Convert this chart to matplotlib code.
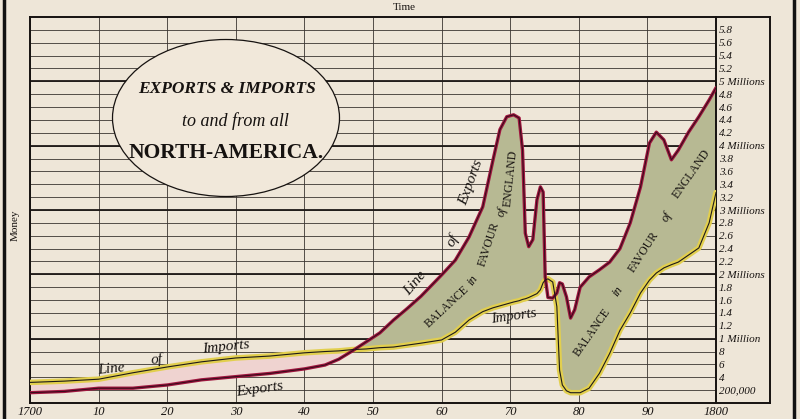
import numpy as np
import matplotlib.pyplot as plt
from matplotlib.patches import Ellipse
from matplotlib.lines import Line2D

# data (millions of pounds)
years = [1700, 1705, 1710, 1715, 1720, 1725, 1730, 1735, 1740, 1743, 1745, 1747,
         1749, 1751, 1753, 1755, 1757, 1760, 1762, 1764, 1766, 1767.5, 1768.5,
         1769.5, 1770.5, 1771.3, 1771.8, 1772.2, 1772.7, 1773.3, 1773.9, 1774.4,
         1774.8, 1775.1, 1775.5, 1776.2, 1776.8, 1777.2, 1777.6, 1778.2, 1778.8,
         1779.4, 1780.2, 1781.5, 1783, 1784.5, 1786, 1787.5, 1789, 1790.3, 1791.3,
         1792.4, 1793.5, 1794.5, 1796, 1797.5, 1799, 1800]
exports = [0.16, 0.18, 0.23, 0.23, 0.28, 0.36, 0.41, 0.46, 0.53, 0.59, 0.68, 0.81,
           0.95, 1.09, 1.29, 1.47, 1.66, 1.99, 2.22, 2.58, 3.05, 3.78, 4.25,
           4.45, 4.48, 4.43, 3.93, 2.64, 2.43, 2.54, 3.16, 3.36,
           3.28, 1.96, 1.64, 1.63, 1.71, 1.87, 1.85, 1.65, 1.32,
           1.45, 1.80, 1.96, 2.07, 2.19, 2.40, 2.80, 3.36, 4.04, 4.21,
           4.09, 3.78, 3.93, 4.21, 4.45, 4.71, 4.90]
imports = [0.32, 0.34, 0.37, 0.47, 0.56, 0.64, 0.70, 0.73, 0.78, 0.80, 0.81, 0.83,
           0.84, 0.86, 0.87, 0.90, 0.93, 0.98, 1.10, 1.29, 1.42, 1.48, 1.51,
           1.54, 1.57, 1.59, 1.61, 1.62, 1.64, 1.67, 1.70, 1.76,
           1.87, 1.91, 1.93, 1.88, 1.50, 0.51, 0.28, 0.19, 0.16,
           0.16, 0.16, 0.23, 0.46, 0.77, 1.13, 1.40, 1.71, 1.91, 2.02,
           2.10, 2.15, 2.19, 2.30, 2.41, 2.80, 3.27]

decades = [1700, 1710, 1720, 1730, 1740, 1750, 1760, 1770, 1780, 1790, 1800]
decade_labels = ['1700', '10', '20', '30', '40', '50', '60', '70', '80', '90', '1800']
money_ticks = [0.2, 0.4, 0.6, 0.8, 1.0, 1.2, 1.4, 1.6, 1.8, 2.0, 2.2, 2.4, 2.6, 2.8,
               3.0, 3.2, 3.4, 3.6, 3.8, 4.0, 4.2, 4.4, 4.6, 4.8, 5.0, 5.2, 5.4, 5.6, 5.8]
money_labels = ['200,000', '4', '6', '8', '1 Million', '1.2', '1.4', '1.6', '1.8',
                '2 Millions', '2.2', '2.4', '2.6', '2.8', '3 Millions', '3.2', '3.4',
                '3.6', '3.8', '4 Millions', '4.2', '4.4', '4.6', '4.8', '5 Millions',
                '5.2', '5.4', '5.6', '5.8']
millions = [1, 2, 3, 4, 5]

# words of the two "balance" legends: (word, year, value, angle)
balance_1 = [('BALANCE', 1760.8, 1.50, 43), ('in', 1764.5, 1.90, 55),
             ('FAVOUR', 1766.9, 2.47, 72), ('of', 1768.8, 2.97, 76),
             ('ENGLAND', 1770.1, 3.50, 84)]
balance_2 = [('BALANCE', 1781.9, 1.10, 55), ('in', 1785.6, 1.73, 55),
             ('FAVOUR', 1789.4, 2.35, 57), ('of', 1792.9, 2.89, 60),
             ('ENGLAND', 1796.5, 3.56, 55)]

paper = '#eee6d8'
ink = '#161210'
serif = 'Liberation Serif'

fig = plt.figure(figsize=(8, 4.19), dpi=100, facecolor=paper)
ax = fig.add_axes([30/800, 16/419, 686/800, 386/419])
ax.set_facecolor(paper)
ax.set_xlim(1700, 1800)
ax.set_ylim(0, 6)

# grid
ax.set_xticks(decades)
ax.set_xticklabels(decade_labels, fontsize=9, style='italic', family=serif, color=ink)
ax.set_yticks(money_ticks)
ax.set_yticklabels(money_labels, fontsize=8, style='italic', family=serif, color=ink)
ax.yaxis.tick_right()
ax.tick_params(length=0, pad=2)
ax.tick_params(axis='x', pad=2)
ax.grid(True, color='#3a3430', lw=0.6)
for m in millions:
    ax.axhline(m, color='#1e1a18', lw=1.3)
for s in ax.spines.values():
    s.set_color(ink)
    s.set_linewidth(1.4)

# balance areas
ax.fill_between(years, exports, imports, where=np.array(exports) >= np.array(imports),
                interpolate=True, color='#b7b993', lw=0, zorder=2)
ax.fill_between(years, exports, imports, where=np.array(exports) < np.array(imports),
                interpolate=True, color='#efd3d0', lw=0, zorder=2)

# lines
ax.plot(years, imports, color='#e2cf4e', lw=4, solid_capstyle='round', zorder=3)
ax.plot(years, imports, color='#1e1a18', lw=0.8, zorder=4)
ax.plot(years, exports, color='#a0163f', lw=2.4, solid_capstyle='round', zorder=3)
ax.plot(years, exports, color='#3a0c1c', lw=0.8, zorder=4)

# label column box
tr = ax.transAxes
for yy in (0, 1):
    ax.add_line(Line2D([1, 1.0787], [yy, yy], transform=tr, color=ink, lw=1.4, clip_on=False))
ax.add_line(Line2D([1.0787, 1.0787], [0, 1], transform=tr, color=ink, lw=1.4, clip_on=False))

# cartouche
oval = Ellipse((226/800, 1 - 118/419), 227/800, 157/419, transform=fig.transFigure,
               facecolor='#f1e8da', edgecolor=ink, lw=0.9, zorder=5)
fig.add_artist(oval)
fig.text(227/800, 1 - 89/419, 'EXPORTS & IMPORTS', ha='center', va='center',
         fontsize=12.5, family=serif, style='italic', weight='bold', color=ink, zorder=6)
fig.text(235/800, 1 - 121/419, 'to and from all', ha='center', va='center',
         fontsize=13, family=serif, style='italic', color=ink, zorder=6)
fig.text(226/800, 1 - 153/419, 'NORTH-AMERICA.', ha='center', va='center',
         fontsize=15.5, family=serif, weight='bold', color=ink, zorder=6)

# annotations on the lines
lab = dict(family=serif, style='italic', color=ink, ha='center', va='center', zorder=6)
ax.text(1711.8, 0.53, 'Line', fontsize=11, rotation=6, **lab)
ax.text(1718.5, 0.68, 'of', fontsize=11, rotation=6, **lab)
ax.text(1728.5, 0.87, 'Imports', fontsize=11, rotation=6, **lab)
ax.text(1733.5, 0.22, 'Exports', fontsize=11, rotation=8, **lab)
ax.text(1756.2, 1.86, 'Line', fontsize=11, rotation=50, **lab)
ax.text(1761.6, 2.52, 'of', fontsize=11, rotation=60, **lab)
ax.text(1764.3, 3.42, 'Exports', fontsize=11, rotation=70, **lab)
ax.text(1770.5, 1.34, 'Imports', fontsize=10.5, rotation=8, **lab)
for word, yr, val, ang in balance_1 + balance_2:
    small = word in ('in', 'of')
    ax.text(yr, val, word, rotation=ang, family=serif, color=ink, ha='center',
            va='center', fontsize=9 if small else 8.5, style='italic' if small else 'normal',
            zorder=6)

# page texts
fig.text(404/800, 1 - 8/419, 'Time', ha='center', va='center', fontsize=8,
         family=serif, color=ink)
fig.text(15/800, 1 - 225/419, 'Money', ha='center', va='center', fontsize=8,
         family=serif, color=ink, rotation=90)
fig.add_artist(Line2D([4/800, 4/800], [0, 1], transform=fig.transFigure, color='#111', lw=2.5))
fig.add_artist(Line2D([794/800, 794/800], [0, 1], transform=fig.transFigure, color='#111', lw=2.5))

fig.savefig('out.png', dpi=100, facecolor=paper)
